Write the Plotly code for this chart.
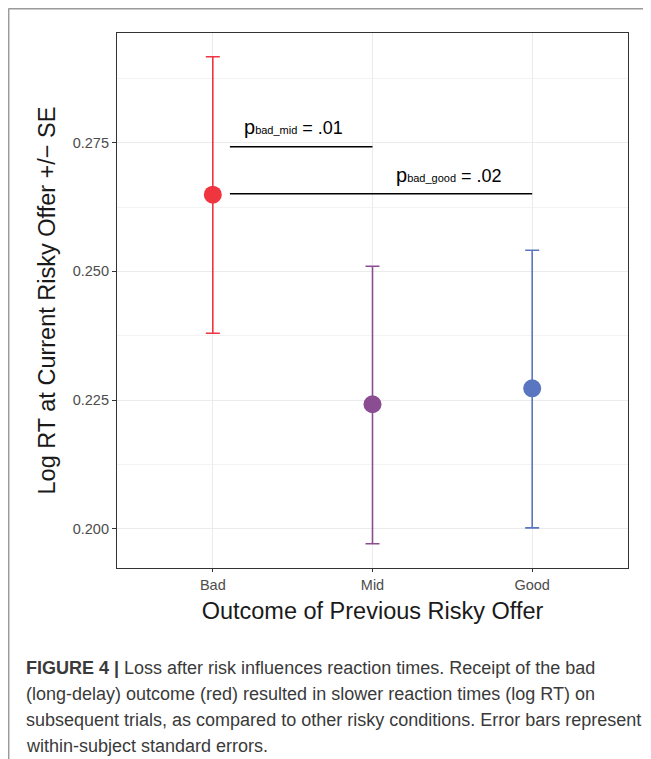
import plotly.graph_objects as go

categories = ["Bad", "Mid", "Good"]
means = [0.2649, 0.2242, 0.2273]
upper = [0.2917, 0.2510, 0.2541]
lower = [0.2380, 0.1971, 0.2002]
colors = ["#EE3540", "#8B4D92", "#5B76C0"]

# significance brackets
sig_x0 = [1.107, 1.107]
sig_x1 = [2.0, 3.0]
sig_y = [0.2742, 0.2651]
sig_label_x = [1.508, 2.48]
sig_label_y = [0.2780, 0.2688]
sig_sub = ["bad_mid", "bad_good"]
sig_p = [".01", ".02"]

y_ticks = [0.200, 0.225, 0.250, 0.275]
y_tick_text = ["0.200", "0.225", "0.250", "0.275"]

caption_lines = [
    "<b>FIGURE 4 |</b> Loss after risk influences reaction times. Receipt of the bad",
    "(long-delay) outcome (red) resulted in slower reaction times (log RT) on",
    "subsequent trials, as compared to other risky conditions. Error bars represent",
    "within-subject standard errors.",
]

xpos = [1, 2, 3]
fig = go.Figure()
for i, c in enumerate(categories):
    fig.add_trace(go.Scatter(
        x=[xpos[i]], y=[means[i]], mode="markers",
        marker=dict(size=18, color=colors[i]),
        error_y=dict(type="data", symmetric=False,
                     array=[upper[i] - means[i]], arrayminus=[means[i] - lower[i]],
                     color=colors[i], thickness=1.6, width=7),
        showlegend=False, cliponaxis=False,
    ))

for i in range(len(sig_x0)):
    fig.add_trace(go.Scatter(
        x=[sig_x0[i], sig_x1[i]], y=[sig_y[i], sig_y[i]], mode="lines",
        line=dict(color="black", width=1.5), showlegend=False,
    ))
    fig.add_annotation(
        x=sig_label_x[i], y=sig_label_y[i], xref="x", yref="y", showarrow=False,
        text=f"<span style='font-size:20px'>p</span><span style='font-size:11px'>{sig_sub[i]}</span> = {sig_p[i]}",
        font=dict(size=18, color="black", family="Liberation Sans, Arial, sans-serif"),
    )

OFF = 8  # page body margin
W, H = 651 - OFF, 759 - OFF
L, R, T, B = 117 - OFF, 628 - OFF, 33 - OFF, 568 - OFF
pw, ph = R - L, B - T

def px(xp):
    return (xp - OFF - L) / pw

def py(yp):
    return (B - (yp - OFF)) / ph

# outer frame lines
fig.add_shape(type="line", xref="paper", yref="paper", x0=px(8.5), x1=px(660), y0=py(8.7), y1=py(8.7),
              line=dict(color="#9a9a9a", width=1.5))
fig.add_shape(type="line", xref="paper", yref="paper", x0=px(8.7), x1=px(8.7), y0=py(8.5), y1=py(770),
              line=dict(color="#9a9a9a", width=1.5))

cap_y = [668, 694, 720, 746]
for i, line in enumerate(caption_lines):
    fig.add_annotation(x=px(24), y=py(cap_y[i]), xref="paper", yref="paper",
                       xanchor="left", yanchor="middle", showarrow=False, text=line,
                       font=dict(size=18, color="#3a3a3a", family="Liberation Sans, Arial, sans-serif"))

fig.update_layout(
    width=W, height=H, margin=dict(l=L, r=W - R, t=T, b=H - B),
    paper_bgcolor="white", plot_bgcolor="white",
    font=dict(family="Liberation Sans, Arial, sans-serif"),
    xaxis=dict(range=[0.4, 3.6], tickvals=xpos, ticktext=categories,
               showgrid=True, gridcolor="#EBEBEB", gridwidth=1.2,
               ticks="outside", ticklen=3, tickcolor="#333333",
               tickfont=dict(size=14.5, color="#4D4D4D"),
               showline=True, linecolor="#333333", linewidth=1.2, mirror=True,
               zeroline=False,
               title=dict(text="Outcome of Previous Risky Offer", font=dict(size=23.5, color="#1a1a1a"), standoff=11)),
    yaxis=dict(range=[0.1924, 0.2963], tickvals=y_ticks, ticktext=y_tick_text,
               showgrid=True, gridcolor="#EBEBEB", gridwidth=1.2,
               minor=dict(tickvals=[0.2125, 0.2375, 0.2625, 0.2875], showgrid=True, gridcolor="#F3F3F3", gridwidth=0.8),
               ticks="outside", ticklen=4, tickcolor="#333333",
               tickfont=dict(size=14.5, color="#4D4D4D"),
               showline=True, linecolor="#333333", linewidth=1.2, mirror=True,
               zeroline=False,
               title=dict(text="Log RT at Current Risky Offer +/\u2212 SE", font=dict(size=23.5, color="#1a1a1a"), standoff=10)),
)

fig.write_html("out.html")
